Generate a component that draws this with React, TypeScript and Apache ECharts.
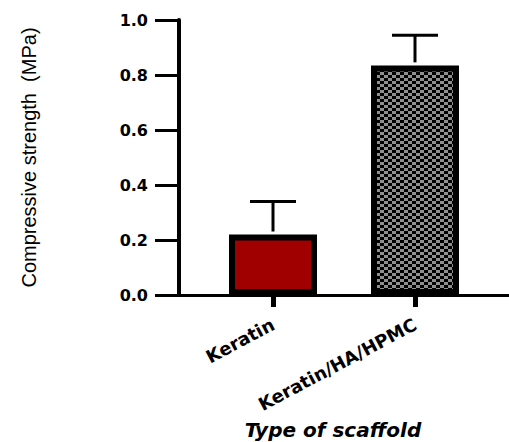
import React, { useEffect, useRef } from "react";
import * as echarts from "echarts";

const categories = ["Keratin", "Keratin/HA/HPMC"];
const positions = [1, 2];
const means = [0.22, 0.835];
const errors = [0.12, 0.11];
const yTicks = [0, 0.2, 0.4, 0.6, 0.8, 1.0];

function makePattern(): string {
  const c = document.createElement("canvas");
  c.width = 8;
  c.height = 6;
  const ctx = c.getContext("2d")!;
  ctx.fillStyle = "#8f8f8f";
  ctx.fillRect(0, 0, 8, 6);
  ctx.fillStyle = "#000000";
  ctx.fillRect(0, 0, 4, 3);
  ctx.fillRect(4, 3, 4, 3);
  return c.toDataURL();
}

export default function App() {
  const ref = useRef<HTMLDivElement>(null);
  useEffect(() => {
    if (!ref.current) return;
    const chart = echarts.init(ref.current, null, { renderer: "svg" });
    const pattern = { image: makePattern(), repeat: "repeat", imageWidth: 8, imageHeight: 6 };
    const fills: any[] = ["#a00000", pattern];
    const font = "'DejaVu Sans', 'Liberation Sans', Arial, sans-serif";
    chart.setOption({
      animation: false,
      grid: {
        left: 179,
        top: 20,
        right: 0,
        height: 275,
        containLabel: false,
        outerBoundsMode: "none",
      },
      xAxis: {
        type: "value",
        min: 0.338,
        max: 2.662,
        name: "Type of scaffold",
        nameLocation: "middle",
        nameGap: 120,
        nameTextStyle: {
          fontFamily: font,
          fontWeight: "bold",
          fontStyle: "italic",
          fontSize: 20,
          color: "#000",
          padding: [0, 22, 0, 0],
        },
        axisLine: { onZero: false, lineStyle: { color: "#000", width: 3 } },
        axisTick: { customValues: positions, length: 12, lineStyle: { color: "#000", width: 5 } },
        axisLabel: {
          customValues: positions,
          formatter: (v: number) => categories[positions.indexOf(Math.round(v))] ?? "",
          rotate: 28,
          margin: 28,
          fontFamily: font,
          fontWeight: "bold",
          fontSize: 18,
          color: "#000",
        },
        splitLine: { show: false },
      },
      yAxis: {
        type: "value",
        min: yTicks[0],
        max: yTicks[yTicks.length - 1],
        interval: 0.2,
        name: "Compressive strength  (MPa)",
        nameLocation: "middle",
        nameRotate: 90,
        nameGap: 140,
        nameTextStyle: {
          fontFamily: "'Liberation Sans', Arial, sans-serif",
          fontSize: 20,
          color: "#000",
        },
        axisLine: { onZero: false, lineStyle: { color: "#000", width: 4 } },
        axisTick: { length: 24, lineStyle: { color: "#000", width: 3 } },
        axisLabel: {
          formatter: (v: number) => v.toFixed(1),
          margin: 31,
          fontFamily: font,
          fontWeight: "bold",
          fontSize: 16,
          color: "#000",
        },
        splitLine: { show: false },
      },
      series: [
        {
          type: "bar",
          barWidth: 88,
          data: positions.map((p, i) => ({
            value: [p, means[i]],
            itemStyle: { color: fills[i], borderColor: "#000", borderWidth: 6 },
          })),
          z: 2,
        },
        {
          type: "custom",
          z: 3,
          data: positions.map((p, i) => [p, means[i], means[i] + errors[i]]),
          encode: { x: 0, y: [1, 2] },
          renderItem: (params: any, api: any) => {
            const x = api.value(0);
            const base = api.coord([x, api.value(1)]);
            const top = api.coord([x, api.value(2)]);
            return {
              type: "group",
              children: [
                {
                  type: "line",
                  shape: { x1: base[0], y1: base[1] - 3, x2: top[0], y2: top[1] },
                  style: { stroke: "#000", lineWidth: 3 },
                },
                {
                  type: "line",
                  shape: { x1: top[0] - 23, y1: top[1], x2: top[0] + 23, y2: top[1] },
                  style: { stroke: "#000", lineWidth: 3 },
                },
              ],
            };
          },
        },
      ],
    });
    return () => chart.dispose();
  }, []);
  return (
    <div
      ref={ref}
      style={{ position: "fixed", left: 0, top: 0, width: 509, height: 442, background: "#fff" }}
    />
  );
}
